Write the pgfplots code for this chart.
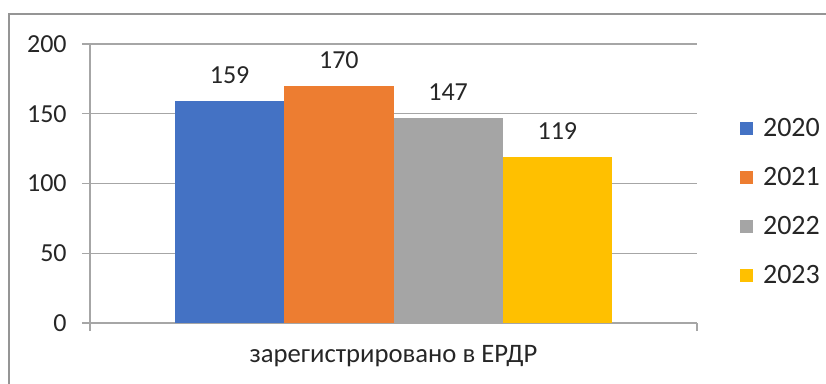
\documentclass[border=0pt]{standalone}
\usepackage{pgfplots}
\pgfplotsset{compat=1.18}
\usepackage{fontspec}
\setmainfont{Carlito}
\definecolor{c20}{HTML}{4472C4}
\definecolor{c21}{HTML}{ED7D31}
\definecolor{c22}{HTML}{A5A5A5}
\definecolor{c23}{HTML}{FFC000}
\definecolor{gridc}{HTML}{A6A6A6}
\definecolor{txt}{HTML}{262626}
\begin{document}
\begin{tikzpicture}[x=0.75pt,y=0.75pt]
\useasboundingbox (0,0) rectangle (826,383);
\draw[gridc!90!black, line width=1.2pt] (9,-20) -- (9,369) -- (850,369);
\begin{axis}[
  at={(67.5pt,45pt)}, anchor=south west,
  scale only axis, width=455.25pt, height=209.25pt,
  /pgf/number format/assume math mode=true,
  ybar=0pt, bar width=0.36,
  xmin=-1, xmax=1, ymin=0, ymax=200,
  ytick={0,50,100,150,200},
  xtick={0}, xticklabels={зарегистрировано в ЕРДР},
  major x tick style={draw=none},
  extra x ticks={-1,1}, extra x tick labels={},
  extra x tick style={major tick length=6pt, tick align=outside, grid=none, major x tick style={draw=gridc, line width=0.9pt}},
  axis x line=bottom, axis y line=left,
  axis line style={draw=gridc, line width=0.9pt, -},
  ymajorgrids, grid style={draw=gridc, line width=0.9pt},
  y tick style={draw=gridc, line width=0.9pt}, major tick length=6pt, tick align=outside,
  tick label style={font=\fontsize{19.5}{23}\selectfont, text=txt},
  yticklabel style={xshift=-8pt},
  xticklabel style={yshift=-7pt, font=\fontsize{20}{23}\selectfont},
  nodes near coords, every node near coord/.append style={font=\fontsize{19.5}{23}\selectfont, text=txt, inner sep=0pt, anchor=south, yshift=13pt},
  enlarge x limits=false,
  legend style={at={(1.07,0.434)}, anchor=west, draw=none, fill=none, font=\fontsize{21}{24}\selectfont, text=txt, row sep=17.5pt, inner sep=0pt, cells={anchor=west}},
  legend image code/.code={\fill[#1] (0pt,-5pt) rectangle (10pt,5pt); \path (15.5pt,0pt);},
]
\addplot[fill=c20, draw=none] coordinates {(0,159)};
\addplot[fill=c21, draw=none] coordinates {(0,170)};
\addplot[fill=c22, draw=none] coordinates {(0,147)};
\addplot[fill=c23, draw=none] coordinates {(0,119)};
\legend{2020,2021,2022,2023}
\end{axis}
\end{tikzpicture}
\end{document}
